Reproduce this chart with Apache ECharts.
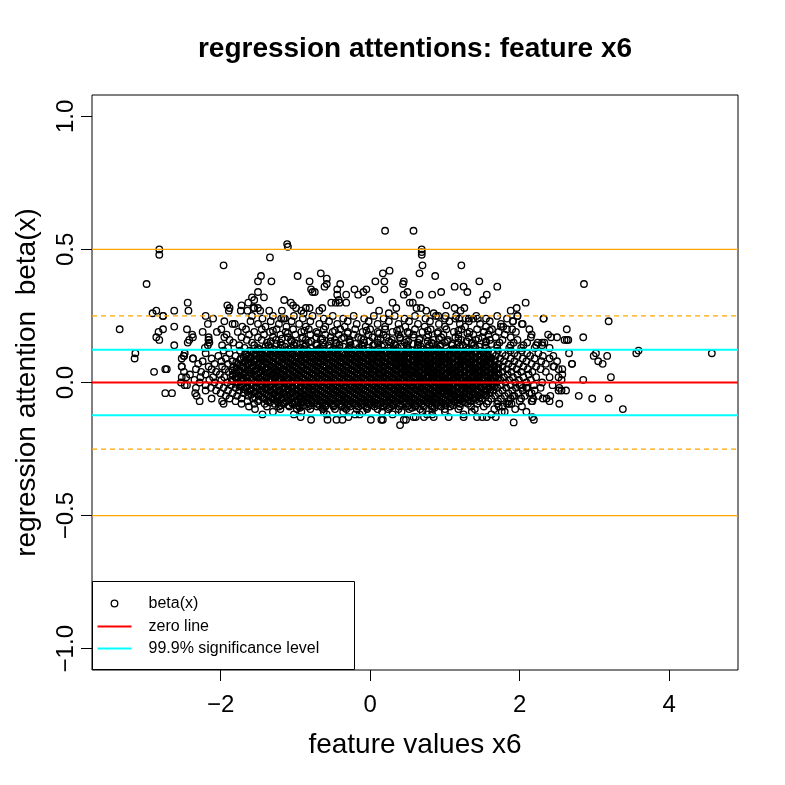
<!DOCTYPE html>
<html>
<head>
<meta charset="utf-8">
<script src="https://cdn.jsdelivr.net/npm/echarts@6/dist/echarts.min.js"></script>
<style>
html,body{margin:0;padding:0;background:#fff;}
#chart{width:785px;height:785px;}
</style>
</head>
<body>
<div id="chart"></div>
<script>
// ---- tick labels / axis ranges ----
const xTicks = [-2, 0, 2, 4];
const yTicks = [-1, -0.5, 0, 0.5, 1];
const xRange = [-3.72, 4.92];
const yRange = [-1.08, 1.08];

// ---- horizontal reference levels ----
const zeroLevel = [0];
const sigLevels = [0.123, -0.123];
const orangeSolidLevels = [0.5, -0.5];
const orangeDashedLevels = [0.25, -0.25];

// ---- legend labels ----
const legendLabels = ['beta(x)', 'zero line', '99.9% significance level'];

// ---- dense cloud: [beta value, [feature values at that beta]] ----
const denseRows = [
 [0.25, [-2.77,-2.2,-1.58,-1.3,-1.02,-0.77,-0.5,-0.22,0.05,0.33,0.6,0.88,1.15,1.42,1.7,1.97]],
 [0.24, [-2.1,-1.44,-1.16,-0.9,-0.62,-0.36,-0.08,0.18,0.46,0.74,1.0,1.28,1.55,1.83,2.32]],
 [0.23, [-1.95,-1.6,-1.33,-1.05,-0.8,-0.55,-0.3,-0.02,0.25,0.52,0.8,1.06,1.32,1.6,1.91]],
 [0.22, [-1.81,-1.5,-1.22,-0.95,-0.68,-0.44,-0.18,0.1,0.38,0.64,0.92,1.2,1.47,1.75]],
 [0.21, [-1.71,-1.4,-1.12,-0.86,-0.6,-0.34,-0.06,0.2,0.47,0.73,1.0,1.27,1.55,1.78]],
 [0.20, [-1.99,-1.66,-1.45,-1.25,-1.03,-0.82,-0.62,-0.4,-0.2,0.0,0.2,0.4,0.6,0.81,1.02,1.22,1.43,1.63,1.9]],
 [0.195, [-1.3,-0.88,-0.47,-0.05,0.36,0.77,1.18,1.6]],
 [0.19, [-2.05,-1.77,-1.55,-1.34,-1.13,-0.92,-0.72,-0.5,-0.3,-0.1,0.1,0.3,0.5,0.7,0.91,1.12,1.33,1.52,1.72,1.95]],
 [0.185, [-1.1,-0.7,-0.3,0.12,0.52,0.9,1.3]],
 [0.18, [-1.92,-1.62,-1.42,-1.2,-1.0,-0.8,-0.6,-0.42,-0.22,-0.02,0.18,0.38,0.58,0.78,0.98,1.18,1.38,1.58,1.8]],
 [0.17, [-2.16,-1.95,-1.72,-1.5,-1.3,-1.1,-0.9,-0.72,-0.53,-0.35,-0.16,0.03,0.22,0.4,0.58,0.76,0.95,1.14,1.32,1.5,1.68,1.88]],
 [0.165, [-1.18,-0.91,-0.64,-0.38,-0.12,0.14,0.4,0.66,0.92,1.18,1.45]],
 [0.16, [-2.16,-1.88,-1.65,-1.45,-1.26,-1.06,-0.86,-0.66,-0.47,-0.28,-0.09,0.1,0.29,0.48,0.66,0.85,1.04,1.22,1.41,1.6,1.77,1.97]],
 [0.155, [-1.33,-1.05,-0.79,-0.53,-0.27,-0.01,0.25,0.51,0.77,1.03,1.29,1.55]],
 [0.15, [-2.15,-1.83,-1.58,-1.38,-1.2,-1.01,-0.82,-0.63,-0.45,-0.27,-0.08,0.1,0.28,0.46,0.64,0.82,1.0,1.18,1.36,1.55,1.73,1.92,2.1]],
 [0.145, [-1.25,-0.98,-0.72,-0.46,-0.2,0.06,0.32,0.58,0.84,1.1,1.36,1.62]],
 [0.14, [-2.17,-1.98,-1.75,-1.55,-1.36,-1.18,-1.02,-0.86,-0.71,-0.56,-0.41,-0.26,-0.11,0.04,0.19,0.34,0.49,0.64,0.79,0.94,1.09,1.24,1.39,1.54,1.7,1.88,2.05,2.22]],
 [0.135, [-1.4,-1.14,-0.88,-0.62,-0.36,-0.1,0.16,0.42,0.68,0.94,1.2,1.46]],
 [0.13, [-2.21,-1.9,-1.68,-1.5,-1.34,-1.2,-1.06,-0.93,-0.8,-0.67,-0.54,-0.41,-0.28,-0.15,-0.02,0.11,0.24,0.37,0.5,0.63,0.76,0.89,1.02,1.15,1.28,1.41,1.55,1.7,1.86,2.02,2.2]],
 [0.125, [-1.49,-1.29,-1.09,-0.89,-0.69,-0.49,-0.29,-0.09,0.11,0.31,0.51,0.71,0.91,1.11,1.31]],
 [0.12, [-1.96,-1.74,-1.61,-1.52,-1.41,-1.33,-1.22,-1.12,-1.03,-0.91,-0.83,-0.72,-0.61,-0.52,-0.43,-0.31,-0.22,-0.13,-0.02,0.07,0.18,0.27,0.36,0.47,0.56,0.66,0.77,0.86,0.95,1.06,1.15,1.26,1.35,1.47,1.58,1.71,1.88,2.03]],
 [0.115, [-1.59,-1.48,-1.39,-1.28,-1.19,-1.09,-0.98,-0.89,-0.79,-0.68,-0.59,-0.49,-0.38,-0.29,-0.19,-0.08,0.01,0.11,0.22,0.31,0.41,0.52,0.61,0.71,0.82,0.91,1.01,1.12,1.21,1.31,1.42,1.51]],
 [0.11, [-2.2,-1.88,-1.67,-1.56,-1.46,-1.37,-1.27,-1.16,-1.07,-0.97,-0.88,-0.77,-0.67,-0.56,-0.47,-0.37,-0.26,-0.17,-0.07,0.03,0.12,0.22,0.32,0.42,0.51,0.61,0.71,0.81,0.91,1.01,1.11,1.2,1.31,1.41,1.52,1.64,1.77,1.93,2.1,2.25]],
 [0.105, [-1.65,-1.54,-1.44,-1.34,-1.23,-1.14,-1.04,-0.93,-0.84,-0.74,-0.63,-0.54,-0.44,-0.33,-0.24,-0.14,-0.03,0.06,0.16,0.27,0.36,0.46,0.57,0.66,0.76,0.87,0.96,1.06,1.17,1.26,1.36,1.47,1.56]],
 [0.10, [-2.49,-2.03,-1.8,-1.63,-1.52,-1.42,-1.31,-1.21,-1.12,-1.01,-0.92,-0.81,-0.72,-0.62,-0.51,-0.42,-0.31,-0.21,-0.12,-0.01,0.08,0.17,0.28,0.37,0.46,0.57,0.66,0.76,0.86,0.96,1.05,1.16,1.25,1.36,1.46,1.57,1.68,1.81,1.97,2.14,2.31]],
 [0.095, [-1.69,-1.59,-1.48,-1.39,-1.29,-1.18,-1.09,-0.99,-0.88,-0.79,-0.69,-0.58,-0.49,-0.39,-0.28,-0.19,-0.09,0.02,0.11,0.21,0.32,0.41,0.51,0.62,0.71,0.81,0.92,1.01,1.11,1.22,1.31,1.41,1.52,1.61]],
 [0.09, [-2.37,-2.12,-1.93,-1.73,-1.6,-1.47,-1.37,-1.26,-1.17,-1.06,-0.96,-0.86,-0.76,-0.66,-0.57,-0.46,-0.36,-0.26,-0.16,-0.06,0.04,0.13,0.23,0.33,0.42,0.52,0.62,0.72,0.82,0.91,1.01,1.1,1.21,1.31,1.41,1.51,1.62,1.74,1.88,2.04,2.2,2.4]],
 [0.085, [-1.74,-1.64,-1.53,-1.44,-1.34,-1.23,-1.14,-1.04,-0.93,-0.84,-0.74,-0.63,-0.54,-0.44,-0.33,-0.24,-0.14,-0.03,0.06,0.16,0.27,0.36,0.46,0.57,0.66,0.76,0.87,0.96,1.06,1.17,1.26,1.36,1.47,1.56,1.66]],
 [0.08, [-2.24,-1.99,-1.84,-1.67,-1.55,-1.43,-1.32,-1.22,-1.11,-1.02,-0.91,-0.81,-0.71,-0.61,-0.51,-0.41,-0.31,-0.21,-0.11,-0.02,0.08,0.18,0.28,0.37,0.47,0.57,0.67,0.77,0.86,0.96,1.06,1.16,1.26,1.36,1.46,1.56,1.67,1.79,1.93,2.09,2.29,2.5]],
 [0.075, [-1.79,-1.69,-1.59,-1.48,-1.39,-1.29,-1.18,-1.09,-0.99,-0.88,-0.79,-0.69,-0.58,-0.49,-0.39,-0.28,-0.19,-0.09,0.02,0.11,0.21,0.32,0.41,0.51,0.62,0.71,0.81,0.92,1.01,1.11,1.22,1.31,1.41,1.52,1.61]],
 [0.07, [-2.3,-2.08,-1.9,-1.77,-1.63,-1.5,-1.38,-1.27,-1.16,-1.06,-0.96,-0.86,-0.76,-0.66,-0.56,-0.46,-0.36,-0.26,-0.16,-0.06,0.03,0.13,0.23,0.33,0.42,0.52,0.62,0.72,0.81,0.91,1.01,1.11,1.21,1.31,1.41,1.51,1.61,1.72,1.85,1.99,2.16,2.35,2.7]],
 [0.065, [-1.74,-1.64,-1.54,-1.44,-1.34,-1.23,-1.14,-1.04,-0.93,-0.84,-0.74,-0.63,-0.54,-0.44,-0.33,-0.24,-0.14,-0.03,0.06,0.16,0.27,0.36,0.46,0.57,0.66,0.76,0.87,0.96,1.06,1.17,1.26,1.36,1.47,1.56,1.66]],
 [0.06, [-2.52,-2.16,-1.98,-1.83,-1.7,-1.57,-1.45,-1.33,-1.22,-1.11,-1.01,-0.91,-0.81,-0.71,-0.61,-0.51,-0.41,-0.31,-0.21,-0.11,-0.01,0.08,0.18,0.28,0.38,0.47,0.57,0.67,0.76,0.86,0.96,1.06,1.16,1.26,1.36,1.46,1.56,1.66,1.77,1.9,2.05,2.22,2.45]],
 [0.055, [-1.79,-1.69,-1.59,-1.49,-1.38,-1.29,-1.19,-1.08,-0.99,-0.89,-0.78,-0.69,-0.59,-0.48,-0.39,-0.29,-0.18,-0.09,0.01,0.12,0.21,0.31,0.42,0.51,0.61,0.72,0.81,0.91,1.02,1.11,1.21,1.32,1.41,1.51,1.62,1.71]],
 [0.05, [-2.33,-2.12,-1.94,-1.78,-1.64,-1.52,-1.4,-1.28,-1.17,-1.06,-0.96,-0.86,-0.76,-0.66,-0.56,-0.46,-0.36,-0.26,-0.16,-0.06,0.03,0.13,0.23,0.33,0.43,0.52,0.62,0.72,0.82,0.91,1.01,1.11,1.21,1.31,1.41,1.51,1.61,1.71,1.83,1.96,2.11,2.28]],
 [0.045, [-1.84,-1.74,-1.64,-1.54,-1.44,-1.33,-1.24,-1.14,-1.03,-0.94,-0.84,-0.73,-0.64,-0.54,-0.43,-0.34,-0.24,-0.13,-0.04,0.06,0.17,0.26,0.36,0.47,0.56,0.66,0.77,0.86,0.96,1.07,1.16,1.26,1.37,1.46,1.56,1.66]],
 [0.04, [-2.26,-2.06,-1.89,-1.74,-1.6,-1.47,-1.35,-1.23,-1.12,-1.01,-0.91,-0.81,-0.71,-0.61,-0.51,-0.41,-0.31,-0.21,-0.11,-0.01,0.08,0.18,0.28,0.38,0.47,0.57,0.67,0.77,0.87,0.96,1.06,1.16,1.26,1.36,1.46,1.56,1.66,1.77,1.89,2.02,2.17,2.35]],
 [0.035, [-1.79,-1.68,-1.59,-1.49,-1.38,-1.29,-1.19,-1.08,-0.99,-0.89,-0.78,-0.69,-0.59,-0.48,-0.39,-0.29,-0.18,-0.09,0.01,0.12,0.21,0.31,0.42,0.51,0.61,0.72,0.81,0.91,1.02,1.11,1.21,1.32,1.41,1.51,1.62,1.71]],
 [0.03, [-2.41,-2.2,-2.01,-1.84,-1.69,-1.55,-1.42,-1.3,-1.18,-1.07,-0.96,-0.86,-0.76,-0.66,-0.56,-0.46,-0.36,-0.26,-0.16,-0.06,0.04,0.13,0.23,0.33,0.43,0.52,0.62,0.72,0.82,0.92,1.01,1.11,1.21,1.31,1.41,1.51,1.61,1.72,1.84,1.97,2.12]],
 [0.025, [-1.84,-1.74,-1.63,-1.54,-1.44,-1.33,-1.24,-1.14,-1.03,-0.94,-0.84,-0.73,-0.64,-0.54,-0.43,-0.34,-0.24,-0.13,-0.04,0.06,0.17,0.26,0.36,0.47,0.56,0.66,0.77,0.86,0.96,1.07,1.16,1.26,1.37,1.46,1.56,1.66]],
 [0.02, [-2.46,-2.27,-2.1,-1.95,-1.8,-1.66,-1.52,-1.39,-1.27,-1.15,-1.03,-0.92,-0.81,-0.71,-0.61,-0.51,-0.41,-0.31,-0.21,-0.11,-0.01,0.09,0.18,0.28,0.38,0.48,0.58,0.67,0.77,0.87,0.97,1.07,1.17,1.27,1.37,1.47,1.57,1.68,1.79,1.91,2.05,2.22,2.4]],
 [0.015, [-1.79,-1.69,-1.58,-1.49,-1.39,-1.28,-1.19,-1.09,-0.98,-0.89,-0.79,-0.68,-0.59,-0.49,-0.38,-0.29,-0.19,-0.08,0.01,0.11,0.22,0.31,0.41,0.52,0.61,0.71,0.82,0.91,1.01,1.12,1.21,1.31,1.42,1.51,1.61,1.71]],
 [0.01, [-2.35,-2.15,-1.99,-1.85,-1.72,-1.59,-1.46,-1.34,-1.22,-1.1,-0.98,-0.87,-0.76,-0.66,-0.56,-0.46,-0.36,-0.26,-0.16,-0.06,0.04,0.14,0.24,0.33,0.43,0.53,0.63,0.72,0.82,0.92,1.02,1.12,1.22,1.32,1.42,1.52,1.63,1.74,1.86,1.99,2.15]],
 [0.005, [-1.84,-1.73,-1.64,-1.54,-1.43,-1.34,-1.24,-1.13,-1.04,-0.94,-0.83,-0.74,-0.64,-0.53,-0.44,-0.34,-0.23,-0.14,-0.04,0.07,0.16,0.26,0.37,0.46,0.56,0.67,0.76,0.86,0.97,1.06,1.16,1.27,1.36,1.46,1.57,1.66]],
 [0.00, [-2.53,-2.28,-2.08,-1.91,-1.77,-1.64,-1.51,-1.39,-1.27,-1.15,-1.04,-0.93,-0.82,-0.71,-0.61,-0.51,-0.41,-0.31,-0.21,-0.11,-0.01,0.09,0.19,0.29,0.38,0.48,0.58,0.68,0.78,0.88,0.97,1.07,1.17,1.27,1.37,1.47,1.58,1.69,1.81,1.94,2.09,2.3]],
 [-0.005, [-1.79,-1.69,-1.59,-1.48,-1.39,-1.29,-1.18,-1.09,-0.99,-0.88,-0.79,-0.69,-0.58,-0.49,-0.39,-0.28,-0.19,-0.09,0.02,0.11,0.21,0.32,0.41,0.51,0.62,0.71,0.81,0.92,1.01,1.11,1.22,1.31,1.41,1.52,1.61]],
 [-0.01, [-2.2,-2.02,-1.86,-1.72,-1.58,-1.45,-1.33,-1.21,-1.09,-0.98,-0.87,-0.77,-0.66,-0.56,-0.46,-0.36,-0.26,-0.16,-0.06,0.04,0.14,0.24,0.34,0.43,0.53,0.63,0.73,0.83,0.93,1.02,1.12,1.22,1.32,1.42,1.53,1.64,1.75,1.88,2.02,2.19,2.44]],
 [-0.015, [-1.74,-1.64,-1.53,-1.44,-1.34,-1.23,-1.14,-1.04,-0.93,-0.84,-0.74,-0.63,-0.54,-0.44,-0.33,-0.24,-0.14,-0.03,0.06,0.16,0.27,0.36,0.46,0.57,0.66,0.76,0.87,0.96,1.06,1.17,1.26,1.36,1.47,1.56,1.66]],
 [-0.02, [-2.33,-2.13,-1.96,-1.8,-1.66,-1.52,-1.39,-1.27,-1.15,-1.04,-0.93,-0.82,-0.71,-0.61,-0.51,-0.41,-0.31,-0.21,-0.11,-0.01,0.09,0.19,0.29,0.38,0.48,0.58,0.68,0.78,0.88,0.97,1.07,1.17,1.27,1.37,1.48,1.59,1.7,1.82,1.95,2.1,2.28]],
 [-0.025, [-1.69,-1.59,-1.48,-1.39,-1.29,-1.18,-1.09,-0.99,-0.88,-0.79,-0.69,-0.58,-0.49,-0.39,-0.28,-0.19,-0.09,0.02,0.11,0.21,0.32,0.41,0.51,0.62,0.71,0.81,0.92,1.01,1.11,1.22,1.31,1.41,1.52,1.61]],
 [-0.03, [-2.2,-2.06,-1.9,-1.75,-1.6,-1.46,-1.33,-1.21,-1.09,-0.98,-0.87,-0.76,-0.66,-0.56,-0.46,-0.36,-0.26,-0.16,-0.06,0.04,0.14,0.24,0.33,0.43,0.53,0.63,0.73,0.83,0.92,1.02,1.12,1.22,1.32,1.43,1.54,1.65,1.77,1.9,2.04,2.2]],
 [-0.035, [-1.64,-1.54,-1.43,-1.34,-1.24,-1.13,-1.04,-0.94,-0.83,-0.74,-0.64,-0.53,-0.44,-0.34,-0.23,-0.14,-0.04,0.07,0.16,0.26,0.37,0.46,0.56,0.67,0.76,0.86,0.97,1.06,1.16,1.27,1.36,1.46,1.56]],
 [-0.04, [-2.0,-1.84,-1.69,-1.54,-1.41,-1.28,-1.16,-1.04,-0.93,-0.82,-0.71,-0.61,-0.51,-0.41,-0.31,-0.21,-0.11,-0.01,0.09,0.19,0.29,0.38,0.48,0.58,0.68,0.78,0.87,0.97,1.07,1.17,1.27,1.38,1.49,1.6,1.72,1.85,1.98,2.13]],
 [-0.045, [-1.59,-1.49,-1.38,-1.29,-1.19,-1.08,-0.99,-0.89,-0.78,-0.69,-0.59,-0.48,-0.39,-0.29,-0.18,-0.09,0.01,0.12,0.21,0.31,0.42,0.51,0.61,0.72,0.81,0.91,1.02,1.11,1.21,1.32,1.41,1.52]],
 [-0.05, [-1.93,-1.78,-1.63,-1.49,-1.36,-1.23,-1.11,-0.99,-0.88,-0.77,-0.66,-0.56,-0.46,-0.36,-0.26,-0.16,-0.06,0.04,0.14,0.24,0.34,0.43,0.53,0.63,0.73,0.83,0.93,1.03,1.13,1.23,1.33,1.44,1.55,1.67,1.8,1.93,2.07,2.25]],
 [-0.055, [-1.54,-1.44,-1.33,-1.24,-1.14,-1.03,-0.94,-0.84,-0.73,-0.64,-0.54,-0.43,-0.34,-0.24,-0.13,-0.04,0.06,0.17,0.26,0.36,0.47,0.56,0.66,0.77,0.86,0.96,1.07,1.16,1.26,1.37,1.47]],
 [-0.06, [-2.12,-1.88,-1.72,-1.57,-1.43,-1.3,-1.18,-1.06,-0.94,-0.83,-0.72,-0.61,-0.51,-0.41,-0.31,-0.21,-0.11,-0.01,0.09,0.19,0.29,0.39,0.48,0.58,0.68,0.78,0.88,0.98,1.08,1.18,1.28,1.39,1.5,1.62,1.75,1.88,2.02,2.18,2.36]],
 [-0.065, [-1.49,-1.39,-1.28,-1.19,-1.09,-0.98,-0.89,-0.79,-0.68,-0.59,-0.49,-0.38,-0.29,-0.19,-0.08,0.01,0.11,0.22,0.31,0.41,0.52,0.61,0.71,0.82,0.91,1.01,1.12,1.21,1.31,1.41]],
 [-0.07, [-1.98,-1.8,-1.64,-1.5,-1.37,-1.24,-1.12,-1.0,-0.89,-0.78,-0.67,-0.56,-0.46,-0.36,-0.26,-0.16,-0.06,0.04,0.14,0.24,0.34,0.44,0.53,0.63,0.73,0.83,0.93,1.03,1.13,1.24,1.35,1.46,1.58,1.71,1.85,2.0]],
 [-0.075, [-1.34,-1.23,-1.14,-1.04,-0.93,-0.84,-0.74,-0.63,-0.54,-0.44,-0.33,-0.24,-0.14,-0.03,0.06,0.16,0.27,0.36,0.46,0.57,0.66,0.76,0.87,0.96,1.06,1.17,1.26]],
 [-0.08, [-1.72,-1.55,-1.41,-1.28,-1.16,-1.04,-0.93,-0.82,-0.71,-0.6,-0.5,-0.4,-0.3,-0.2,-0.1,0.0,0.1,0.2,0.3,0.4,0.49,0.59,0.69,0.79,0.89,0.99,1.09,1.2,1.31,1.43,1.56,1.7,1.86]],
 [-0.085, [-1.19,-1.09,-0.98,-0.89,-0.79,-0.68,-0.59,-0.49,-0.38,-0.29,-0.19,-0.08,0.01,0.11,0.22,0.31,0.41,0.52,0.61,0.71,0.82,0.91,1.01,1.11]],
 [-0.09, [-1.62,-1.38,-1.22,-1.08,-0.95,-0.83,-0.71,-0.6,-0.49,-0.38,-0.27,-0.16,-0.05,0.06,0.17,0.28,0.39,0.5,0.61,0.72,0.83,0.95,1.07,1.2,1.35,1.52,1.72]],
 [-0.095, [-0.94,-0.64,-0.34,-0.04,0.26,0.56,0.86]],
 [-0.10, [-1.2,-0.98,-0.8,-0.63,-0.47,-0.32,-0.18,-0.04,0.1,0.24,0.38,0.52,0.67,0.83,1.0,1.18,1.4,1.66,1.94]],
 [-0.11, [-1.3,-0.92,-0.62,-0.36,-0.1,0.16,0.42,0.7,1.0,1.36,1.8]],
 [-0.12, [-1.02,-0.58,-0.14,0.3,0.76,1.25,1.62]]
];

// ---- scattered points outside the dense cloud: [feature value, beta] ----
const sparsePoints = [
 [-2.82,0.50],[-2.82,0.48],[-1.96,0.44],[-2.99,0.37],[-3.35,0.20],[-3.14,0.11],[-3.15,0.09],[-2.89,0.04],
 [-2.44,0.30],[-2.43,0.27],[-2.91,0.26],[-2.86,0.27],[-2.77,0.25],[-2.62,0.27],[-2.83,0.19],[-2.86,0.17],
 [-2.82,0.16],[-2.77,0.20],[-2.62,0.21],[-2.62,0.14],[-2.45,0.20],[-2.74,0.05],[-2.72,0.05],[-2.74,-0.04],
 [-2.65,-0.04],[-2.38,0.18],[-2.37,0.17],[-2.44,0.15],[-2.42,0.16],[-2.52,0.09],[-2.49,0.10],[-2.48,0.11],
 [-2.37,0.09],[-2.52,0.06],[-2.49,0.04],[-2.34,-0.04],[-2.32,-0.05],[-2.28,-0.07],[-2.24,0.19],[-2.17,0.22],
 [-2.16,0.16],[-1.96,-0.08],[-1.91,0.29],[-1.89,0.27],[-1.88,0.28],[-1.72,0.29],[-1.73,0.27],[-1.64,0.27],
 [-1.63,0.30],[-1.84,0.22],[-1.58,0.32],[-1.56,0.28],[-2.52,0.02],[-2.45,-0.01],[-2.48,-0.01],
 [-1.11,0.52],[-1.10,0.51],[-1.34,0.47],[-1.50,0.38],[-1.46,0.40],[-1.32,0.38],[-0.97,0.40],[-0.66,0.41],
 [-0.58,0.39],[-0.81,0.38],[-0.79,0.35],[-0.77,0.34],[-0.74,0.34],[-0.61,0.36],[-0.58,0.37],[-0.44,0.35],
 [-0.40,0.37],[-0.44,0.33],[-0.42,0.31],[-0.32,0.33],[-1.50,0.34],[-1.55,0.31],[-1.42,0.32],[-1.15,0.31],
 [-1.06,0.30],[-1.03,0.29],[-0.99,0.28],[-0.81,0.28],[-0.21,0.35],[-0.16,0.33],[-0.09,0.34],[-0.05,0.35],
 [0.00,0.31],[0.07,0.38],[-0.92,0.27],[-0.89,0.26],[-0.86,0.28],[-0.68,0.27],[-0.64,0.28],[-0.52,0.30],
 [-0.46,0.30],[-0.41,0.30],[-0.32,0.30],[-1.55,0.28],[-1.50,0.28],[-1.47,0.27],[-1.35,0.27],[-1.18,0.27],
 [-1.19,0.24],[-1.14,0.24],
 [0.20,0.57],[0.58,0.57],[0.69,0.50],[0.69,0.49],[0.69,0.48],[0.66,0.41],[0.70,0.44],[1.22,0.44],[0.87,0.40],
 [0.26,0.42],[0.17,0.41],[0.19,0.38],[0.19,0.35],[0.45,0.38],[0.44,0.37],[0.50,0.34],[0.45,0.33],[0.66,0.33],
 [0.83,0.33],[0.95,0.34],[1.13,0.36],[1.25,0.36],[1.30,0.34],[1.46,0.38],[1.51,0.31],[1.56,0.33],[1.70,0.36],
 [1.02,0.29],[1.13,0.28],[1.21,0.27],[1.26,0.28],[1.44,0.24],[1.75,0.21],[1.83,0.20],[1.52,0.19],[1.38,0.24],
 [1.32,0.24],[1.19,0.24],[1.14,0.24],[1.01,0.25],[0.91,0.25],[0.85,0.26],[0.75,0.27],[0.68,0.28],[0.62,0.28],
 [0.57,0.30],[0.53,0.30],[0.30,0.30],[0.35,0.28],[0.12,0.27],[0.25,0.26],
 [2.86,0.37],[3.19,0.23],[2.85,0.17],[2.63,0.20],[3.02,0.11],[2.99,0.10],[3.05,0.08],[3.11,0.07],[3.17,0.10],
 [3.56,0.11],[3.59,0.12],[4.57,0.11],[3.22,0.02],[2.85,0.01],[2.79,-0.05],[2.97,-0.06],[3.19,-0.06],[3.38,-0.10],
 [2.53,-0.08],[2.19,-0.14],[1.92,-0.15],[2.09,-0.11],[2.03,-0.09],[2.66,0.11],[2.70,0.07],[2.57,0.03],
 [2.62,-0.03],[2.56,-0.03],[2.52,-0.03],[2.63,0.16],[2.65,0.16],[2.60,0.16],[2.50,0.17],[2.42,0.17],[2.38,0.18],
 [2.32,0.24],[2.30,0.15],[2.33,0.15],[2.08,0.30],[1.96,0.28],[1.88,0.27],[1.97,0.25],[1.91,0.23],[2.04,0.22],
 [2.03,0.22],[2.13,0.20],[2.16,0.18],[2.15,0.17],
 [2.24,0.15],[2.30,0.14],[2.40,0.13],[2.45,0.10],[2.46,0.06],[2.52,0.05],[2.57,0.05],[2.52,0.02],[2.56,0.01],
 [2.53,-0.02],[2.41,-0.05],[2.40,-0.07],[2.31,-0.06],[2.17,-0.07],[2.16,-0.04],[2.09,-0.02],[2.04,-0.02],
 [2.00,-0.01],[1.91,-0.05],[1.89,-0.08],[1.83,-0.08],[1.77,-0.09],[1.76,-0.11],
 [0.40,-0.16],[0.01,-0.14],[-0.79,-0.14],[-0.57,-0.14],[-0.37,-0.14],[0.15,-0.14],[0.17,-0.14],[0.45,-0.14],
 [0.48,-0.14],[0.61,-0.13],[0.72,-0.13],[0.85,-0.13],[1.05,-0.13],[1.25,-0.13],[1.43,-0.13],[1.50,-0.13],
 [1.68,-0.13],[-1.54,-0.10],[-1.44,-0.12],[-0.93,-0.13],[-0.45,-0.14],[-0.29,-0.13],[-0.20,-0.12],
 [0.58,-0.13],[0.83,-0.12],[1.56,-0.13],[2.17,-0.13],[2.16,-0.07]
];

// ---- build scatter data from the arrays ----
const scatterData = [];
denseRows.forEach(function (row) {
  row[1].forEach(function (x) { scatterData.push([x, row[0]]); });
});
sparsePoints.forEach(function (p) { scatterData.push(p); });

const FONT = '"Liberation Sans", Arial, Helvetica, sans-serif';
const minus = function (s) { return String(s).replace('-', '\u2212'); };

function levelSeries(levels, color, width, type) {
  return levels.map(function (v) {
    return {
      type: 'line',
      data: [[xRange[0], v], [xRange[1], v]],
      showSymbol: false,
      symbol: 'none',
      silent: true,
      z: 5,
      lineStyle: { color: color, width: width, type: type },
      itemStyle: { color: color },
      emphasis: { disabled: true }
    };
  });
}

const chart = echarts.init(document.getElementById('chart'), null, { renderer: 'canvas' });

chart.setOption({
  animation: false,
  backgroundColor: '#fff',
  textStyle: { fontFamily: FONT },
  title: {
    text: 'regression attentions: feature x6',
    left: 410,
    top: 30,
    textAlign: 'center',
    textStyle: { fontFamily: FONT, fontSize: 28, fontWeight: 'bold', color: '#000' }
  },
  grid: {
    left: 92, right: 47, top: 95, bottom: 115,
    show: true, borderColor: '#000', borderWidth: 1, backgroundColor: 'transparent'
  },
  xAxis: {
    type: 'value',
    min: xRange[0], max: xRange[1],
    axisLine: { show: false, onZero: false },
    splitLine: { show: false },
    axisTick: { show: true, length: 11, customValues: xTicks, lineStyle: { color: '#000', width: 1 } },
    axisLabel: {
      customValues: xTicks, fontSize: 24, color: '#000', fontFamily: FONT, margin: 23,
      formatter: function (v) { return minus(v); }
    },
    name: 'feature values x6',
    nameLocation: 'middle',
    nameGap: 61,
    nameTextStyle: { fontSize: 28, color: '#000', fontFamily: FONT }
  },
  yAxis: {
    type: 'value',
    min: yRange[0], max: yRange[1],
    axisLine: { show: false, onZero: false },
    splitLine: { show: false },
    axisTick: { show: true, length: 11, customValues: yTicks, lineStyle: { color: '#000', width: 1 } },
    axisLabel: {
      customValues: yTicks, fontSize: 24, color: '#000', fontFamily: FONT, margin: 14, rotate: 90,
      formatter: function (v) { return minus(Number(v).toFixed(1)); }
    },
    name: 'regression attention  beta(x)',
    nameLocation: 'middle',
    nameRotate: 90,
    nameGap: 51,
    nameTextStyle: { fontSize: 28, color: '#000', fontFamily: FONT }
  },
  series: [
    {
      name: legendLabels[0],
      type: 'scatter',
      data: scatterData,
      symbol: 'circle',
      symbolSize: 6.5,
      large: false,
      progressive: 0,
      itemStyle: { color: 'rgba(0,0,0,0)', borderColor: '#000', borderWidth: 1.35, opacity: 1 },
      emphasis: { disabled: true },
      z: 2
    }
  ]
  .concat(levelSeries(orangeSolidLevels, '#FFA500', 1.3, 'solid'))
  .concat(levelSeries(orangeDashedLevels, '#FFA500', 1.3, [5, 4]))
  .concat(levelSeries(sigLevels, '#00FFFF', 2.2, 'solid'))
  .concat(levelSeries(zeroLevel, '#FF0000', 2.2, 'solid')),
  graphic: [
    {
      type: 'group', left: 92, top: 581, z: 100,
      children: [
        { type: 'rect', shape: { x: 0, y: 0, width: 262, height: 88 },
          style: { fill: '#fff', stroke: '#000', lineWidth: 1 } },
        { type: 'circle', shape: { cx: 22, cy: 22, r: 3.3 },
          style: { fill: 'none', stroke: '#000', lineWidth: 1.3 } },
        { type: 'line', shape: { x1: 5, y1: 45, x2: 39, y2: 45 },
          style: { stroke: '#FF0000', lineWidth: 2 } },
        { type: 'line', shape: { x1: 5, y1: 67, x2: 39, y2: 67 },
          style: { stroke: '#00FFFF', lineWidth: 2 } },
        { type: 'text', x: 56, y: 22,
          style: { text: legendLabels[0], fill: '#000', font: '16px ' + FONT, verticalAlign: 'middle' } },
        { type: 'text', x: 56, y: 45,
          style: { text: legendLabels[1], fill: '#000', font: '16px ' + FONT, verticalAlign: 'middle' } },
        { type: 'text', x: 56, y: 67,
          style: { text: legendLabels[2], fill: '#000', font: '16px ' + FONT, verticalAlign: 'middle' } }
      ]
    }
  ]
});
</script>
</body>
</html>
